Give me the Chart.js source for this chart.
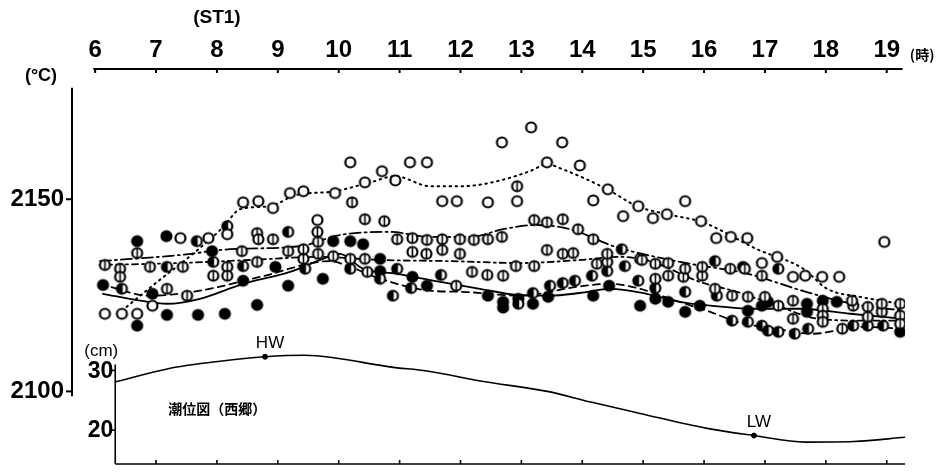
<!DOCTYPE html>
<html>
<head>
<meta charset="utf-8">
<script src="https://cdn.jsdelivr.net/npm/chart.js@4/dist/chart.umd.min.js"></script>
<style>
  html, body { margin: 0; padding: 0; background: #fff; }
  #wrap { width: 952px; height: 472px; }
</style>
</head>
<body>
<div id="wrap"><canvas id="chart" width="952" height="472"></canvas></div>
<script>
// hours shown on the time axis
var tickHours = [6, 7, 8, 9, 10, 11, 12, 13, 14, 15, 16, 17, 18, 19];
var tempTicks = [2100, 2150];
var tideTicks = [20, 30];

// open circles (dotted trend)
var openHours = [6.16, 6.44, 6.69, 6.94, 7.40, 7.86, 8.17, 8.43, 8.68, 8.92, 9.20, 9.42, 9.65, 9.94, 10.19, 10.43, 10.71, 10.93, 11.17, 11.45, 11.70, 11.94, 12.45, 12.68, 12.93, 13.16, 13.42, 13.67, 13.96, 14.18, 14.42, 14.67, 14.92, 15.16, 15.39, 15.69, 15.95, 16.20, 16.44, 16.71, 16.95, 17.20, 17.46, 17.66, 17.94, 18.22, 18.96];
var openTemps = [2120.2, 2120.2, 2120.2, 2122.3, 2139.9, 2139.9, 2140.9, 2149.2, 2149.5, 2147.7, 2151.6, 2152.1, 2144.6, 2151.6, 2159.6, 2154.4, 2157.3, 2154.9, 2159.6, 2159.6, 2149.5, 2149.5, 2149.2, 2164.8, 2149.5, 2168.7, 2159.6, 2164.8, 2158.8, 2149.7, 2152.6, 2145.6, 2148.2, 2145.1, 2146.1, 2149.5, 2144.3, 2139.9, 2140.2, 2139.9, 2133.4, 2135.0, 2129.8, 2130.1, 2129.8, 2129.8, 2138.9];

// barred circles, upper group (long dash-dot trend)
var barAHours = [6.69, 8.41, 8.66, 8.68, 8.92, 9.17, 9.42, 9.65, 9.66, 10.22, 10.43, 10.75, 10.96, 11.21, 11.45, 11.70, 11.99, 12.22, 12.45, 12.68, 12.93, 13.21, 13.42, 13.68, 13.93, 14.18, 14.41, 14.98, 15.20, 15.41, 15.69, 15.97, 16.43, 16.67, 16.95, 17.46, 18.43, 18.92, 19.22];
var barATemps = [2136.0, 2136.5, 2141.2, 2139.6, 2139.6, 2136.5, 2137.0, 2141.5, 2138.9, 2149.2, 2144.8, 2144.3, 2139.6, 2139.9, 2139.4, 2139.6, 2139.6, 2139.4, 2139.6, 2140.2, 2153.4, 2144.6, 2144.0, 2144.8, 2142.2, 2139.6, 2135.8, 2134.2, 2133.2, 2133.4, 2131.9, 2132.4, 2131.9, 2131.9, 2130.1, 2123.6, 2123.6, 2122.8, 2122.8];

// barred circles, middle group (dash-dot trend)
var barBHours = [6.16, 6.41, 6.41, 6.90, 7.18, 7.44, 7.51, 7.94, 8.17, 8.17, 8.66, 9.42, 9.66, 9.91, 10.19, 10.43, 10.47, 11.21, 11.44, 11.70, 11.99, 11.93, 12.19, 12.44, 12.70, 12.91, 13.21, 13.42, 13.68, 13.85, 14.24, 14.41, 14.95, 15.20, 15.41, 15.66, 15.97, 16.18, 16.46, 16.72, 17.00, 17.22, 17.46, 17.95, 17.95, 17.95, 18.27, 18.45, 18.69, 18.69, 18.92, 19.22, 19.22];
var barBTemps = [2132.9, 2131.9, 2129.8, 2132.4, 2126.7, 2132.4, 2124.9, 2130.1, 2132.4, 2130.1, 2133.7, 2134.5, 2135.8, 2135.2, 2134.5, 2134.5, 2131.1, 2136.3, 2135.8, 2136.8, 2135.8, 2127.5, 2131.1, 2130.3, 2130.1, 2132.6, 2132.6, 2136.8, 2135.8, 2136.0, 2133.2, 2133.7, 2134.5, 2129.3, 2130.1, 2129.8, 2130.1, 2126.7, 2124.9, 2124.6, 2124.6, 2122.3, 2118.9, 2121.5, 2119.7, 2118.1, 2116.3, 2122.3, 2122.0, 2119.4, 2120.7, 2119.7, 2117.6];

// filled circles (solid trend)
var fullHours = [6.13, 6.69, 6.94, 7.18, 7.69, 8.13, 8.43, 8.66, 9.17, 9.74, 6.69, 7.17, 7.92, 8.96, 9.91, 10.19, 10.40, 10.68, 10.68, 11.21, 11.45, 12.45, 12.70, 12.70, 12.95, 13.19, 13.44, 14.18, 14.44, 14.95, 15.20, 15.41, 15.69, 15.93, 16.72, 16.95, 17.05, 17.69, 17.69, 17.95, 18.18, 19.22];
var fullTemps = [2127.7, 2117.1, 2125.4, 2119.9, 2119.9, 2120.2, 2128.8, 2122.5, 2127.5, 2129.3, 2139.1, 2140.4, 2136.5, 2132.4, 2139.1, 2139.1, 2138.3, 2134.5, 2131.3, 2129.8, 2127.5, 2124.9, 2123.3, 2121.8, 2124.1, 2122.8, 2124.6, 2124.9, 2127.5, 2122.3, 2124.1, 2123.3, 2120.7, 2122.3, 2121.0, 2122.3, 2123.3, 2122.8, 2120.7, 2123.6, 2123.3, 2115.5];

// half filled circles (dashed trend)
var halfHours = [6.44, 7.18, 7.67, 7.94, 8.17, 8.43, 9.17, 9.45, 10.19, 10.68, 10.96, 10.89, 11.19, 11.68, 12.95, 13.19, 13.47, 13.68, 13.88, 14.16, 14.41, 14.65, 14.70, 14.92, 15.20, 15.69, 16.18, 16.21, 16.46, 16.64, 16.72, 16.95, 17.22, 17.05, 17.22, 17.49, 17.71, 18.45, 18.69, 18.94];
var halfTemps = [2126.7, 2132.4, 2139.1, 2133.7, 2143.0, 2132.6, 2141.5, 2131.9, 2131.9, 2129.3, 2131.9, 2124.9, 2126.9, 2130.3, 2122.8, 2125.6, 2127.5, 2128.2, 2128.8, 2130.1, 2131.3, 2137.0, 2132.6, 2128.8, 2126.9, 2125.9, 2133.9, 2124.9, 2118.4, 2132.4, 2118.1, 2117.1, 2131.9, 2115.8, 2115.5, 2115.0, 2116.3, 2117.1, 2117.1, 2117.1];

// hand drawn trend curves
var dotHours = [6.44, 7.02, 7.56, 8.10, 8.38, 8.87, 9.28, 9.94, 10.52, 10.93, 11.50, 12.04, 12.60, 13.14, 13.42, 13.68, 14.41, 14.90, 15.39, 15.98, 16.87, 17.63, 18.02, 18.56, 19.22];
var dotTemps = [2121.0, 2128.5, 2135.2, 2142.7, 2147.4, 2148.2, 2151.0, 2152.1, 2154.4, 2156.0, 2153.4, 2153.4, 2154.7, 2157.3, 2159.1, 2157.8, 2152.6, 2148.2, 2146.1, 2144.0, 2137.0, 2131.9, 2126.7, 2124.6, 2122.8];
var longDashHours = [6.08, 7.40, 8.22, 9.37, 10.02, 10.84, 11.50, 12.16, 12.70, 13.22, 13.80, 14.51, 15.06, 15.77, 16.72, 17.61, 18.43, 19.27];
var longDashTemps = [2133.9, 2135.5, 2137.0, 2137.8, 2140.7, 2141.5, 2140.2, 2140.2, 2142.2, 2143.3, 2142.2, 2137.8, 2135.5, 2133.2, 2130.6, 2126.2, 2122.8, 2121.0];
var dashDotHours = [6.08, 7.40, 8.55, 9.69, 10.68, 11.83, 12.98, 13.96, 14.62, 15.11, 15.93, 16.54, 17.25, 17.87, 18.69, 19.27];
var dashDotTemps = [2132.9, 2133.4, 2134.2, 2135.0, 2134.2, 2133.9, 2133.4, 2134.2, 2135.0, 2133.9, 2128.5, 2125.9, 2122.0, 2118.9, 2118.4, 2118.4];
var solidHours = [6.13, 6.74, 7.18, 7.72, 8.43, 9.20, 9.74, 10.02, 10.40, 10.96, 11.67, 12.32, 12.93, 13.47, 13.96, 14.46, 15.06, 15.61, 16.10, 16.80, 17.58, 18.40, 19.27];
var solidTemps = [2125.4, 2123.6, 2122.8, 2124.1, 2128.0, 2131.1, 2134.5, 2135.8, 2131.9, 2130.6, 2128.5, 2126.7, 2125.1, 2124.9, 2125.6, 2126.7, 2125.4, 2123.3, 2122.3, 2121.5, 2121.5, 2120.2, 2118.9];
var dashHours = [6.08, 6.90, 7.72, 8.71, 9.86, 10.19, 10.68, 11.50, 12.04, 12.98, 13.91, 14.46, 14.95, 15.44, 16.10, 16.54, 17.17, 17.79, 18.56, 19.27];
var dashTemps = [2128.0, 2124.9, 2126.2, 2129.8, 2133.9, 2132.4, 2129.3, 2126.2, 2125.9, 2124.9, 2127.2, 2128.0, 2126.7, 2124.1, 2120.7, 2118.1, 2116.3, 2115.0, 2116.8, 2116.3];

// tide level at Saigo (cm)
var tideHours = [6.34, 7.20, 8.05, 8.79, 9.45, 9.94, 10.84, 11.45, 12.35, 13.45, 14.14, 14.95, 16.05, 16.82, 17.66, 18.46, 19.30];
var tideLevels = [28.1, 30.3, 31.55, 32.3, 32.55, 32.1, 30.6, 29.9, 28.2, 26.45, 24.7, 22.8, 20.3, 19.1, 18.0, 18.1, 18.8];
var tideMarkNames = ['HW', 'LW'];
var tideMarkHours = [8.79, 16.82];
var tideMarkLevels = [32.3, 19.1];

function pairs(xs, ys) {
    var out = [];
    for (var i = 0; i < xs.length; i++) out.push({ x: xs[i], y: ys[i] });
    return out;
}

function makeMark(kind) {
    var c = document.createElement('canvas');
    c.width = 15; c.height = 15;
    var g = c.getContext('2d');
    g.strokeStyle = '#000';
    g.lineWidth = 2.2;
    g.beginPath();
    g.arc(7.5, 7.5, 5, 0, Math.PI * 2);
    g.fillStyle = kind === 'full' ? '#000' : '#fff';
    g.fill();
    g.stroke();
    if (kind === 'half') {
        g.beginPath();
        g.arc(7.5, 7.5, 5, Math.PI / 2, Math.PI * 1.5);
        g.fillStyle = '#000';
        g.fill();
    }
    if (kind === 'bar' || kind === 'half') {
        g.beginPath();
        g.lineWidth = 1.6;
        g.moveTo(7.5, 2.8);
        g.lineTo(7.5, 12.2);
        g.stroke();
    }
    return c;
}

function marks(label, xs, ys, kind) {
    return {
        label: label, data: pairs(xs, ys), order: 0,
        pointStyle: makeMark(kind), pointRadius: 7, showLine: false
    };
}

function trend(label, xs, ys, dash, width) {
    return {
        label: label, data: pairs(xs, ys), order: 1, showLine: true,
        borderColor: '#000', borderWidth: width, borderDash: dash, borderCapStyle: 'round',
        pointRadius: 0, cubicInterpolationMode: 'monotone'
    };
}

function line(ctx, x1, y1, x2, y2) {
    ctx.beginPath();
    ctx.moveTo(x1, y1);
    ctx.lineTo(x2, y2);
    ctx.stroke();
}

var axesPlugin = {
    id: 'axesPlugin',
    afterDraw: function (chart) {
        var ctx = chart.ctx;
        var x = chart.scales.x, y = chart.scales.y, tide = chart.scales.tide;
        var area = chart.chartArea;
        ctx.save();
        ctx.strokeStyle = '#000';
        ctx.fillStyle = '#000';
        ctx.lineWidth = 2;

        // time axis on top
        line(ctx, x.getPixelForValue(5.97), area.top, x.getPixelForValue(19.26), area.top);
        tickHours.forEach(function (h) {
            line(ctx, x.getPixelForValue(h), area.top, x.getPixelForValue(h), area.top + 4);
        });

        // temperature axis
        var tx = area.left;
        line(ctx, tx, y.getPixelForValue(2179), tx, y.getPixelForValue(2098.7));
        tempTicks.forEach(function (v) {
            line(ctx, tx - 6, y.getPixelForValue(v), tx, y.getPixelForValue(v));
        });

        // tide sub chart axes
        var sx = x.getPixelForValue(6.33);
        ctx.lineWidth = 1.6;
        line(ctx, sx, area.bottom, sx, tide.getPixelForValue(31));
        line(ctx, sx, area.bottom, x.getPixelForValue(19.30), area.bottom);
        tideTicks.forEach(function (v) {
            line(ctx, sx - 5, tide.getPixelForValue(v), sx, tide.getPixelForValue(v));
        });
        tickHours.slice(1).forEach(function (h) {
            line(ctx, x.getPixelForValue(h), area.bottom, x.getPixelForValue(h), area.bottom - 4);
        });

        ctx.textBaseline = 'middle';
        ctx.textAlign = 'right';
        ctx.font = 'bold 23px "Liberation Sans", Arial, sans-serif';
        tideTicks.forEach(function (v) {
            ctx.fillText(String(v), sx - 2, tide.getPixelForValue(v) + 1);
        });
        ctx.textAlign = 'center';
        ctx.font = '17px "Liberation Sans", Arial, sans-serif';
        ctx.fillText('(cm)', sx - 14, tide.getPixelForValue(33.2));
        for (var i = 0; i < tideMarkNames.length; i++) {
            ctx.fillText(tideMarkNames[i], x.getPixelForValue(tideMarkHours[i]) + 5,
                tide.getPixelForValue(tideMarkLevels[i]) - 13);
        }

        ctx.textAlign = 'left';
        ctx.font = 'bold 14px "Noto Sans CJK JP", sans-serif';
        ctx.fillText('潮位図（西郷）', x.getPixelForValue(7.2), tide.getPixelForValue(23.6));
        ctx.fillText('(時)', x.getPixelForValue(19.38), area.top - 14);

        ctx.textAlign = 'center';
        ctx.font = 'bold 19px "Liberation Sans", Arial, sans-serif';
        ctx.fillText('(ST1)', x.getPixelForValue(8), 18);
        ctx.font = 'bold 18px "Liberation Sans", Arial, sans-serif';
        ctx.fillText('(°C)', 41, 76);
        ctx.restore();
    }
};

var tideSet = {
    label: 'tide', data: pairs(tideHours, tideLevels), yAxisID: 'tide', order: 1,
    showLine: true, borderColor: '#000', borderWidth: 1.6, pointRadius: 0,
    cubicInterpolationMode: 'monotone'
};
var tideMarks = {
    label: 'HW / LW', data: pairs(tideMarkHours, tideMarkLevels), yAxisID: 'tide', order: 0,
    pointRadius: 2.5, pointBackgroundColor: '#000', pointBorderColor: '#000', showLine: false
};

new Chart(document.getElementById('chart'), {
    type: 'scatter',
    data: {
        datasets: [
            marks('open', openHours, openTemps, 'open'),
            marks('barred upper', barAHours, barATemps, 'bar'),
            marks('barred middle', barBHours, barBTemps, 'bar'),
            marks('half', halfHours, halfTemps, 'half'),
            marks('filled', fullHours, fullTemps, 'full'),
            trend('dotted', dotHours, dotTemps, [1.5, 4.5], 2),
            trend('long dash-dot', longDashHours, longDashTemps, [11, 4, 2, 4], 1.8),
            trend('dash-dot', dashDotHours, dashDotTemps, [6, 4, 2, 4], 1.8),
            trend('solid', solidHours, solidTemps, [], 1.8),
            trend('dashed', dashHours, dashTemps, [7, 5], 1.8),
            tideSet,
            tideMarks
        ]
    },
    options: {
        responsive: false,
        animation: false,
        layout: { padding: { top: 0, left: 0, right: 47, bottom: 6 } },
        plugins: { legend: { display: false }, tooltip: { enabled: false } },
        scales: {
            x: {
                type: 'linear', position: 'top', min: 5.62, max: 19.30,
                afterBuildTicks: function (s) { s.ticks = tickHours.map(function (v) { return { value: v }; }); },
                afterFit: function (s) { s.height = 69; s.paddingLeft = 0; s.paddingRight = 0; },
                grid: { display: false, drawTicks: false },
                border: { display: false },
                ticks: {
                    color: '#000', padding: 4, maxRotation: 0, autoSkip: false,
                    font: { family: '"Liberation Sans", Arial, sans-serif', size: 24, weight: 'bold' }
                }
            },
            y: {
                type: 'linear', position: 'left', min: 2081.1, max: 2183.9,
                afterBuildTicks: function (s) { s.ticks = tempTicks.map(function (v) { return { value: v }; }); },
                afterFit: function (s) { s.width = 72; s.paddingTop = 0; s.paddingBottom = 0; },
                grid: { display: false, drawTicks: false },
                border: { display: false },
                ticks: {
                    color: '#000', padding: 8,
                    callback: function (v) { return String(v); },
                    font: { family: '"Liberation Sans", Arial, sans-serif', size: 24, weight: 'bold' }
                }
            },
            tide: {
                type: 'linear', position: 'right', min: 14.33, max: 80.5, display: false
            }
        }
    },
    plugins: [axesPlugin]
});
</script>
</body>
</html>
